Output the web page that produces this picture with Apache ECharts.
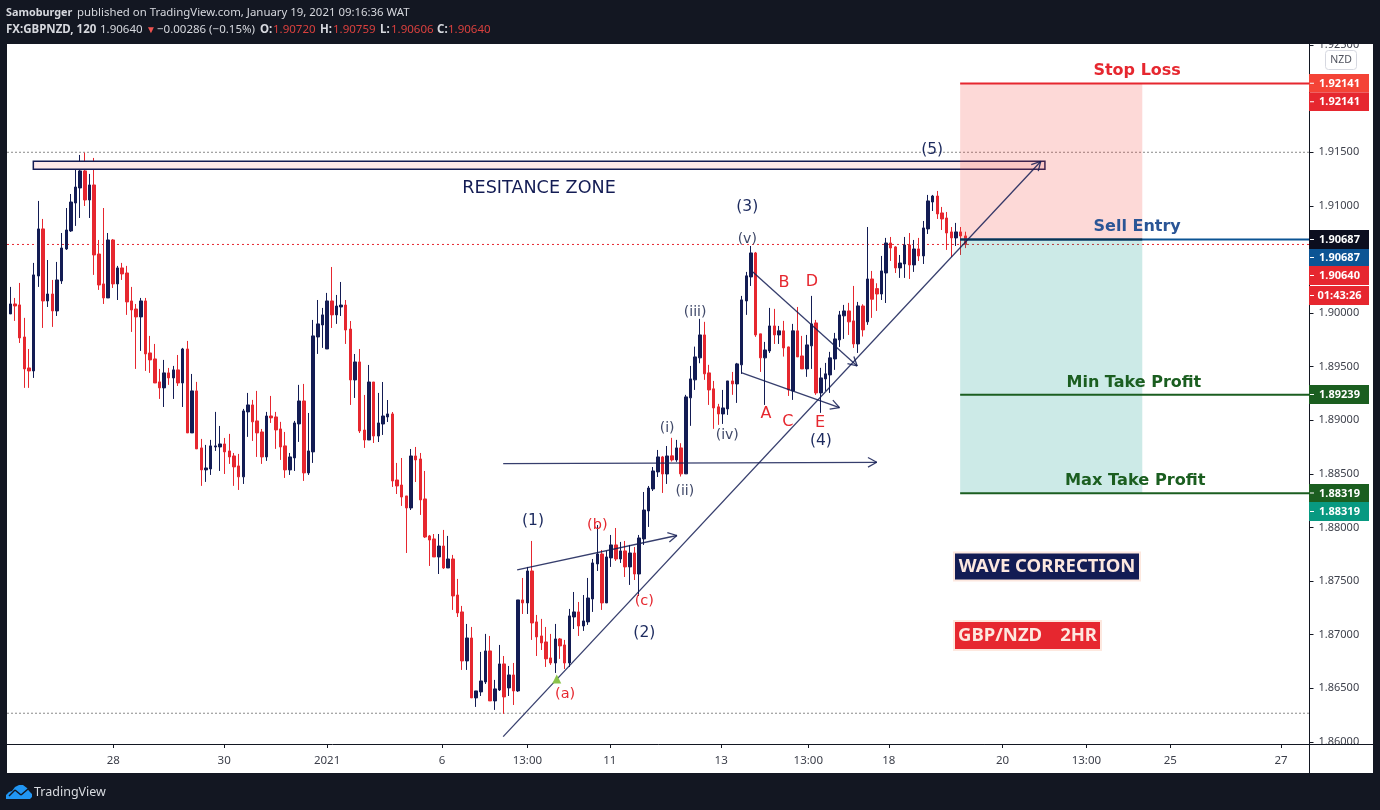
<!DOCTYPE html>
<html>
<head>
<meta charset="utf-8"/>
<title>GBPNZD 120</title>
<script src="https://cdn.jsdelivr.net/npm/echarts@6/dist/echarts.min.js"></script>
<style>
html,body{margin:0;padding:0;background:#131722;}
#chart{width:1380px;height:810px;}
</style>
</head>
<body>
<div id="chart"></div>
<script>
var opens = [
1.89992,1.90085,1.90076,1.89777,1.89488,1.89460,1.90346,1.90785,1.90113,1.90178,
1.90020,1.90300,1.90598,1.90766,1.91027,1.91167,1.91326,1.91055,1.91195,1.90551,
1.90272,1.90141,1.90682,1.90272,1.90421,1.90374,1.90113,1.90038,1.89964,1.90113,
1.89628,1.89572,1.89358,1.89302,1.89442,1.89395,1.89470,1.89348,1.89665,1.88882,
1.89274,1.88742,1.88537,1.88546,1.88751,1.88751,1.88779,1.88714,1.88667,1.88574,
1.88472,1.89078,1.89143,1.88994,1.88891,1.88658,1.89040,1.89031,1.88919,1.88761,
1.88537,1.88649,1.88966,1.89180,1.88509,1.88705,1.89777,1.89889,1.89665,1.90113,
1.89983,1.90057,1.90075,1.89851,1.89376,1.89544,1.88909,1.88816,1.89357,1.88853,
1.88965,1.89031,1.89059,1.88443,1.88396,1.88294,1.88182,1.88667,1.88639,1.88266,
1.87921,1.87893,1.87725,1.87827,1.87622,1.87706,1.87370,1.87212,1.86755,1.86969,
1.86410,1.86466,1.86559,1.86848,1.86382,1.86484,1.86727,1.86503,1.86624,1.86475,
1.87324,1.87296,1.87594,1.87119,1.86988,1.86932,1.86783,1.86736,1.86960,1.86904,
1.86736,1.87165,1.87212,1.87081,1.87119,1.87333,1.87660,1.87753,1.87296,1.87716,
1.87837,1.87706,1.87781,1.87632,1.87762,1.87566,1.87893,1.88154,1.88359,1.88518,
1.88658,1.88499,1.88668,1.88630,1.88742,1.88500,1.89209,1.89377,1.89582,1.89796,
1.89442,1.89293,1.89125,1.89059,1.89106,1.89367,1.89339,1.89517,1.90113,1.90337,
1.90561,1.89806,1.89582,1.89647,1.89880,1.89796,1.89834,1.89684,1.89274,1.89834,
1.89600,1.89479,1.89694,1.89908,1.89255,1.89386,1.89423,1.89572,1.89750,1.89974,
1.90020,1.89927,1.89712,1.90066,1.89918,1.90318,1.90228,1.90178,1.90374,1.90654,
1.90617,1.90421,1.90458,1.90635,1.90449,1.90598,1.90533,1.90785,1.91036,1.91092,
1.90934,1.90887,1.90757,1.90701,1.90757,1.90720];
var closes = [
1.90085,1.90066,1.89768,1.89479,1.89460,1.90356,1.90785,1.90113,1.90178,1.90020,
1.90309,1.90607,1.90775,1.91036,1.91176,1.91326,1.91055,1.91195,1.90542,1.90262,
1.90141,1.90682,1.90272,1.90421,1.90365,1.90104,1.90029,1.89964,1.90113,1.89619,
1.89563,1.89348,1.89302,1.89442,1.89395,1.89470,1.89348,1.89665,1.88882,1.89274,
1.88733,1.88537,1.88555,1.88761,1.88761,1.88779,1.88705,1.88658,1.88565,1.88472,
1.89087,1.89143,1.88985,1.88882,1.88658,1.89040,1.89022,1.88910,1.88751,1.88537,
1.88658,1.88975,1.89180,1.88509,1.88714,1.89787,1.89899,1.89983,1.90113,1.89983,
1.90066,1.90075,1.89842,1.89376,1.89544,1.88900,1.88816,1.89357,1.88853,1.88975,
1.89040,1.89059,1.88434,1.88387,1.88284,1.88182,1.88667,1.88630,1.88257,1.87911,
1.87883,1.87725,1.87827,1.87622,1.87706,1.87361,1.87203,1.86755,1.86969,1.86410,
1.86475,1.86568,1.86848,1.86382,1.86494,1.86727,1.86419,1.86624,1.86475,1.87324,
1.87296,1.87594,1.87109,1.86979,1.86923,1.86774,1.86736,1.86960,1.86895,1.86736,
1.87175,1.87212,1.87081,1.87128,1.87342,1.87669,1.87753,1.87296,1.87725,1.87837,
1.87706,1.87781,1.87632,1.87762,1.87566,1.87902,1.88163,1.88368,1.88527,1.88658,
1.88499,1.88667,1.88630,1.88742,1.88500,1.89218,1.89386,1.89591,1.89796,1.89433,
1.89283,1.89115,1.89059,1.89115,1.89367,1.89339,1.89526,1.90123,1.90347,1.90561,
1.89796,1.89582,1.89656,1.89880,1.89796,1.89834,1.89675,1.89283,1.89834,1.89591,
1.89479,1.89703,1.89899,1.89255,1.89395,1.89433,1.89582,1.89759,1.89983,1.90020,
1.89918,1.89712,1.90067,1.89843,1.90318,1.90129,1.90178,1.90393,1.90654,1.90607,
1.90421,1.90467,1.90635,1.90449,1.90598,1.90533,1.90794,1.91046,1.91092,1.90925,
1.90878,1.90747,1.90701,1.90757,1.90719,1.90640];
var highs = [
1.90244,1.90141,1.90281,1.89955,1.89665,1.90468,1.91046,1.90878,1.90495,1.90309,
1.90477,1.90747,1.90980,1.91111,1.91391,1.91475,1.91497,1.91298,1.91447,1.90682,
1.90980,1.90747,1.90691,1.90440,1.90468,1.90440,1.90244,1.90085,1.90141,1.90141,
1.89787,1.89712,1.89479,1.89563,1.89488,1.89507,1.89609,1.89675,1.89740,1.89432,
1.89358,1.88826,1.88770,1.88817,1.89078,1.88947,1.88835,1.88873,1.88695,1.88686,
1.89106,1.89255,1.89190,1.89274,1.88919,1.89078,1.89227,1.89078,1.88985,1.88891,
1.88695,1.88994,1.89330,1.89339,1.89068,1.89936,1.90122,1.90048,1.90188,1.90430,
1.90169,1.90290,1.90122,1.89926,1.89618,1.89665,1.89236,1.89516,1.89357,1.89255,
1.89357,1.89189,1.89077,1.88602,1.88648,1.88294,1.88732,1.88751,1.88695,1.88527,
1.87930,1.87939,1.87939,1.87977,1.87921,1.87744,1.87520,1.87268,1.87100,1.87072,
1.86475,1.86839,1.87007,1.86988,1.86578,1.86904,1.86801,1.86708,1.86736,1.87324,
1.87529,1.87632,1.87874,1.87184,1.87147,1.87072,1.87007,1.87100,1.86969,1.86951,
1.87240,1.87398,1.87305,1.87370,1.87529,1.87706,1.88023,1.87790,1.87781,1.87930,
1.87995,1.87865,1.87874,1.87837,1.87818,1.87930,1.88331,1.88387,1.88564,1.88723,
1.88667,1.88760,1.88836,1.88817,1.88786,1.89237,1.89507,1.89687,1.89946,1.89918,
1.89517,1.89367,1.89153,1.89283,1.89367,1.89451,1.89535,1.90160,1.90384,1.90626,
1.90570,1.89806,1.89731,1.90048,1.90039,1.89880,1.89927,1.89687,1.89899,1.90057,
1.89787,1.89796,1.90160,1.89936,1.89489,1.89535,1.89638,1.89815,1.90020,1.90076,
1.90095,1.90253,1.90104,1.90082,1.90803,1.90393,1.90278,1.90533,1.90701,1.90710,
1.90623,1.90542,1.90710,1.90747,1.90682,1.90701,1.90859,1.91102,1.91102,1.91139,
1.90990,1.90943,1.90803,1.90841,1.90803,1.90759];
var lows = [
1.89992,1.89927,1.89721,1.89302,1.89302,1.89395,1.90244,1.89861,1.90057,1.89871,
1.89973,1.90272,1.90589,1.90757,1.90813,1.90887,1.90999,1.90887,1.90356,1.90216,
1.90085,1.90141,1.90234,1.90122,1.90309,1.89983,1.89824,1.89479,1.89647,1.89460,
1.89442,1.89348,1.89199,1.89124,1.89330,1.89199,1.89320,1.89124,1.88882,1.88882,
1.88733,1.88388,1.88425,1.88490,1.88714,1.88527,1.88499,1.88593,1.88388,1.88350,
1.88406,1.88845,1.88807,1.88658,1.88593,1.88621,1.88975,1.88733,1.88630,1.88462,
1.88490,1.88527,1.88798,1.88434,1.88490,1.88602,1.89619,1.89675,1.89665,1.89861,
1.89899,1.89973,1.89712,1.89143,1.89208,1.88881,1.88742,1.88816,1.88788,1.88797,
1.88863,1.88984,1.88378,1.88312,1.88201,1.87762,1.88163,1.88424,1.88117,1.87902,
1.87641,1.87725,1.87566,1.87613,1.87622,1.87231,1.87165,1.86671,1.86671,1.86410,
1.86326,1.86428,1.86540,1.86382,1.86298,1.86475,1.86261,1.86428,1.86344,1.86466,
1.87193,1.87193,1.86951,1.86801,1.86857,1.86699,1.86718,1.86643,1.86774,1.86680,
1.86699,1.87053,1.86988,1.87035,1.87091,1.87212,1.87594,1.87231,1.87296,1.87632,
1.87688,1.87669,1.87538,1.87464,1.87510,1.87361,1.87837,1.88005,1.88340,1.88471,
1.88322,1.88406,1.88615,1.88612,1.88475,1.88506,1.88948,1.89283,1.89532,1.89377,
1.89143,1.88920,1.88957,1.88966,1.89050,1.89237,1.89162,1.89433,1.89983,1.90253,
1.89778,1.89451,1.89143,1.89628,1.89712,1.89712,1.89594,1.89227,1.89190,1.89594,
1.89479,1.89405,1.89479,1.89237,1.89069,1.89274,1.89255,1.89470,1.89684,1.89759,
1.89796,1.89675,1.89628,1.89781,1.89890,1.89955,1.90020,1.90122,1.90094,1.90486,
1.90374,1.90328,1.90328,1.90318,1.90384,1.90486,1.90458,1.90738,1.90952,1.90878,
1.90775,1.90589,1.90523,1.90626,1.90542,1.90606];

// x is the bar number, the axis runs on into empty bars on the right
var timeTicks = [22.1,45.9,68,92.7,111,128.7,152.6,171.3,188.6,213,231,249,272.8];
var timeLabels = ['28','30','2021','6','13:00','11','13','13:00','18','20','13:00','25','27'];
var priceTicks = [1.86,1.865,1.87,1.875,1.88,1.885,1.89,1.895,1.9,1.905,1.91,1.915,1.92,1.925];

var stopLoss = 1.92141, sellEntry = 1.90687, minTake = 1.89239, maxTake = 1.88319;
var lastPrice = 1.9064, swingHigh = 1.915, swingLow = 1.86267;

var resistanceZone = [4.93,1.91416,222.1,1.91341];
var riskZone = [203.9,stopLoss,243,sellEntry];
var rewardZone = [203.9,sellEntry,243,maxTake];
var trendArrows = [
	[105.8,1.86049,221.2,1.91414],
	[105.8,1.88595,186,1.88608],
	[108.8,1.87604,143.1,1.87925],
	[156.9,1.89444,178,1.89118],
	[159.4,1.90383,181.8,1.89507]
];
var bigWaves = [[197.9,1.9154,'(5)'],[158.2,1.91008,'(3)'],[174,1.88826,'(4)'],[112.2,1.88079,'(1)'],[136.1,1.87035,'(2)']];
var smallWaves = [[158.2,1.9071,'(v)'],[147,1.90029,'(iii)'],[141,1.88947,'(i)'],[144.8,1.88359,'(ii)'],[153.9,1.88882,'(iv)']];
var redSubWaves = [[126,1.88042,'(b)'],[136.1,1.87333,'(c)'],[119.1,1.86466,'(a)']];
var redLetters = [[162.2,1.89078,'A'],[166.1,1.903,'B'],[166.9,1.89003,'C'],[172.1,1.90309,'D'],[173.8,1.88994,'E']];
var entryMarker = [[117.3,1.86587]];

var xMin = -0.72, xMax = 278.9;
var NAVY = '#131c54', RED = '#e6272f', GREEN = '#1b5e20', BLUE = '#0c5494';
var UI_FONT = '"Noto Sans"', DRAW_FONT = '"DejaVu Sans"';

function levelLine(name, value, from, to, color, width, dash) {
	return {
		type: 'line', name: name, data: [[from, value], [to, value]],
		showSymbol: false, silent: true, z: dash ? 1 : 6,
		lineStyle: {color: color, width: width, type: dash || 'solid'}
	};
}

function zone(name, rect, fill, stroke, z) {
	return {
		type: 'custom', name: name, data: [rect], silent: true, z: z,
		encode: {x: [0, 2], y: [1, 3]},
		renderItem: function (params, api) {
			var a = api.coord([api.value(0), api.value(1)]);
			var b = api.coord([api.value(2), api.value(3)]);
			return {
				type: 'rect',
				shape: {x: a[0], y: a[1], width: b[0] - a[0], height: b[1] - a[1]},
				style: {fill: fill, stroke: stroke, lineWidth: stroke ? 1.5 : 0}
			};
		}
	};
}

function waveLabels(name, data, color, size, bold) {
	return {
		type: 'scatter', name: name, data: data, symbolSize: 1, silent: true, z: 8,
		itemStyle: {color: 'transparent', opacity: 1},
		label: {
			show: true, position: 'inside', offset: [0, 2], color: color, fontSize: size,
			fontFamily: DRAW_FONT, fontWeight: bold ? 'bold' : 'normal',
			formatter: function (p) { return p.value[2]; }
		}
	};
}

function arrowSeries(data) {
	return {
		type: 'custom', name: 'arrows', data: data, silent: true, z: 7,
		encode: {x: [0, 2], y: [1, 3]},
		renderItem: function (params, api) {
			var a = api.coord([api.value(0), api.value(1)]);
			var b = api.coord([api.value(2), api.value(3)]);
			var ang = Math.atan2(b[1] - a[1], b[0] - a[0]);
			var head = 10, kids = [{x1: a[0], y1: a[1], x2: b[0], y2: b[1]}];
			[0.5, -0.5].forEach(function (d) {
				kids.push({x1: b[0], y1: b[1], x2: b[0] - head * Math.cos(ang + d), y2: b[1] - head * Math.sin(ang + d)});
			});
			return {
				type: 'group',
				children: kids.map(function (s) {
					return {type: 'line', shape: s, style: {stroke: NAVY, lineWidth: 1.3, opacity: 0.85}};
				})
			};
		}
	};
}

function rect(x, y, w, h, fill, z, stroke) {
	return {type: 'rect', z: z, silent: true, shape: {x: x, y: y, width: w, height: h},
		style: {fill: fill, stroke: stroke || null, lineWidth: stroke ? 2 : 0}};
}
function text(x, y, s, color, size, weight, align, font, z) {
	return {type: 'text', z: z || 60, silent: true, x: x, y: y,
		style: {text: s, fill: color, fontSize: size, fontWeight: weight || 'normal',
			fontFamily: font || UI_FONT, align: align || 'left', verticalAlign: 'middle'}};
}
function seg(x1, y1, x2, y2, color, width, z) {
	return {type: 'line', z: z, silent: true, shape: {x1: x1, y1: y1, x2: x2, y2: y2}, style: {stroke: color, lineWidth: width}};
}

var DARK = '#131722', HEAD_RED = '#d9403e', HEAD = '#d6d8de';
var graphics = [
	rect(7, 44, 1366, 729, '#fff', -10),
	// frame goes over the chart so the end tick labels get cut like the original
	rect(0, 0, 1380, 44, DARK, 50), rect(0, 0, 7, 810, DARK, 50),
	rect(1373, 0, 7, 810, DARK, 50), rect(0, 773, 1380, 37, DARK, 50),
	rect(1310, 745, 63, 28, '#fff', 30),
	seg(1309.5, 744, 1309.5, 773, DARK, 1, 31),
	seg(1309, 744.5, 1373, 744.5, DARK, 1, 31),

	text(6, 13, 'Samoburger', HEAD, 10.8, 'bold'),
	text(77, 13, 'published on TradingView.com, January 19, 2021 09:16:36 WAT', HEAD, 11.4),
	text(6, 30, 'FX:GBPNZD, 120', HEAD, 11.5, 'bold'),
	text(100, 30, '1.90640', HEAD, 11.5),
	text(146, 30, '▼', '#ef5350', 10),
	text(157, 30, '−0.00286 (−0.15%)', HEAD, 11.5),
	text(260, 30, 'O:', HEAD, 11.5, 'bold'), text(273, 30, '1.90720', HEAD_RED, 11.5),
	text(320, 30, 'H:', HEAD, 11.5, 'bold'), text(333, 30, '1.90759', HEAD_RED, 11.5),
	text(380, 30, 'L:', HEAD, 11.5, 'bold'), text(391, 30, '1.90606', HEAD_RED, 11.5),
	text(437, 30, 'C:', HEAD, 11.5, 'bold'), text(448, 30, '1.90640', HEAD_RED, 11.5),

	// logo
	{type: 'polygon', z: 60, silent: true, shape: {points: [[6, 799], [6, 795], [9, 792], [12, 791], [15, 787], [19, 785], [23, 785], [27, 788], [29, 791], [32, 794], [32, 797], [30, 799]]}, style: {fill: '#2196f3'}},
	seg(9, 796, 15, 790, DARK, 1.5, 61), seg(15, 790, 21, 795, DARK, 1.5, 61), seg(21, 795, 28, 789, DARK, 1.5, 61),
	text(34, 792, 'TradingView', '#d8dbe0', 12.5),

	// currency badge
	{type: 'rect', z: 40, silent: true, shape: {x: 1325.5, y: 50.5, width: 31, height: 19, r: 3}, style: {fill: '#fff', stroke: '#d6d8e0', lineWidth: 1}},
	text(1341, 60, 'NZD', '#50535e', 10.5, 'normal', 'center', UI_FONT, 41),

	// annotation boxes
	rect(954, 552.5, 186, 28, NAVY, 20, '#fde8df'),
	text(1047, 566.5, 'WAVE CORRECTION', '#fde8df', 18.5, 'bold', 'center', UI_FONT, 21),
	rect(954, 621, 147, 29, RED, 20, '#fde8df'),
	text(958, 636, 'GBP/NZD', '#fde8df', 18.5, 'bold', 'left', UI_FONT, 21),
	text(1097, 636, '2HR', '#fde8df', 18.5, 'bold', 'right', UI_FONT, 21)
];

// price tags on the axis, stacked as in the original
[
	['1.92141', 74, 92.5, '#f44336'], ['1.92141', 92.5, 111, RED],
	['1.90687', 230, 249, '#0c0e1f'], ['1.90687', 249, 266, BLUE],
	['1.90640', 266, 285, RED], ['01:43:26', 286, 305, RED],
	['1.89239', 385, 404, GREEN], ['1.88319', 484, 502, GREEN], ['1.88319', 502, 521, '#089981']
].forEach(function (t) {
	graphics.push(rect(1309, t[1], 60, t[2] - t[1], t[3], 40));
	graphics.push(text(1339.5, (t[1] + t[2]) / 2 + 0.5, t[0], '#fff', 11, 'bold', 'center', UI_FONT, 41));
	graphics.push(seg(1310, (t[1] + t[2]) / 2, 1314, (t[1] + t[2]) / 2, '#fff', 1, 41));
});

var chart = echarts.init(document.getElementById('chart'));
chart.setOption({
	animation: false,
	backgroundColor: DARK,
	graphic: {elements: graphics},
	grid: {left: 7, right: 70.5, top: 44, bottom: 66},
	xAxis: {
		type: 'value', min: xMin, max: xMax, splitLine: {show: false},
		axisLine: {onZero: false, lineStyle: {color: '#131722', width: 1}},
		axisTick: {length: 4, lineStyle: {color: '#131722'}, customValues: timeTicks},
		axisLabel: {
			margin: 11, fontSize: 11.5, fontFamily: UI_FONT, color: '#3c3f4a',
			customValues: timeTicks,
			formatter: function (v) { return timeLabels[timeTicks.indexOf(v)]; }
		}
	},
	yAxis: {
		type: 'value', position: 'right', min: 1.8598, max: 1.9251, splitLine: {show: false},
		axisLine: {show: true, onZero: false, lineStyle: {color: '#131722', width: 1}},
		axisTick: {show: true, length: 4, lineStyle: {color: '#131722'}, customValues: priceTicks},
		axisLabel: {
			margin: 9, fontSize: 11, fontFamily: UI_FONT, color: '#3c3f4a',
			customValues: priceTicks, showMinLabel: true, showMaxLabel: true,
			formatter: function (v) { return v.toFixed(5); }
		}
	},
	series: [
		levelLine('high', swingHigh, xMin, xMax, '#8a8a8a', 1, [2, 2]),
		levelLine('low', swingLow, xMin, xMax, '#8a8a8a', 1, [2, 2]),
		levelLine('last', lastPrice, xMin, xMax, RED, 1, [2, 3]),
		{
			type: 'candlestick', name: 'GBPNZD', silent: true, z: 3,
			barWidth: 3,
			data: opens.map(function (o, i) { return [i, o, closes[i], lows[i], highs[i]]; }),
			itemStyle: {color: NAVY, color0: RED, borderColor: NAVY, borderColor0: RED, borderWidth: 1}
		},
		zone('resistance', resistanceZone, '#fde9e9', NAVY, 4),
		zone('risk', riskZone, 'rgba(244,67,54,0.2)', null, 5),
		zone('reward', rewardZone, 'rgba(0,150,136,0.2)', null, 5),
		levelLine('stop', stopLoss, 203.9, xMax, RED, 2),
		levelLine('entry', sellEntry, 203.9, xMax, BLUE, 2),
		levelLine('entry edge', sellEntry, 203.9, 243, '#0a3350', 2),
		levelLine('min tp', minTake, 203.9, xMax, GREEN, 2),
		levelLine('max tp', maxTake, 203.9, xMax, GREEN, 2),
		arrowSeries(trendArrows),
		{type: 'scatter', name: 'entry', data: entryMarker, symbol: 'triangle', symbolSize: 9, silent: true, z: 8, itemStyle: {color: '#8bc34a', opacity: 1}},
		waveLabels('big', bigWaves, '#1c2a5e', 15.5),
		waveLabels('small', smallWaves, '#3f4868', 14),
		waveLabels('red sub', redSubWaves, '#e6272f', 14.5),
		waveLabels('red letters', redLetters, '#e6272f', 16),
		waveLabels('zone', [[113.5, 1.91186, 'RESITANCE ZONE']], '#131c54', 17.6),
		waveLabels('stop text', [[241.9, 1.92277, 'Stop Loss']], RED, 16, true),
		waveLabels('entry text', [[241.9, 1.90822, 'Sell Entry']], '#2a5596', 16, true),
		waveLabels('min text', [[241.2, 1.89367, 'Min Take Profit']], GREEN, 16, true),
		waveLabels('max text', [[241.5, 1.88453, 'Max Take Profit']], GREEN, 16.2, true)
	]
});
</script>
</body>
</html>
